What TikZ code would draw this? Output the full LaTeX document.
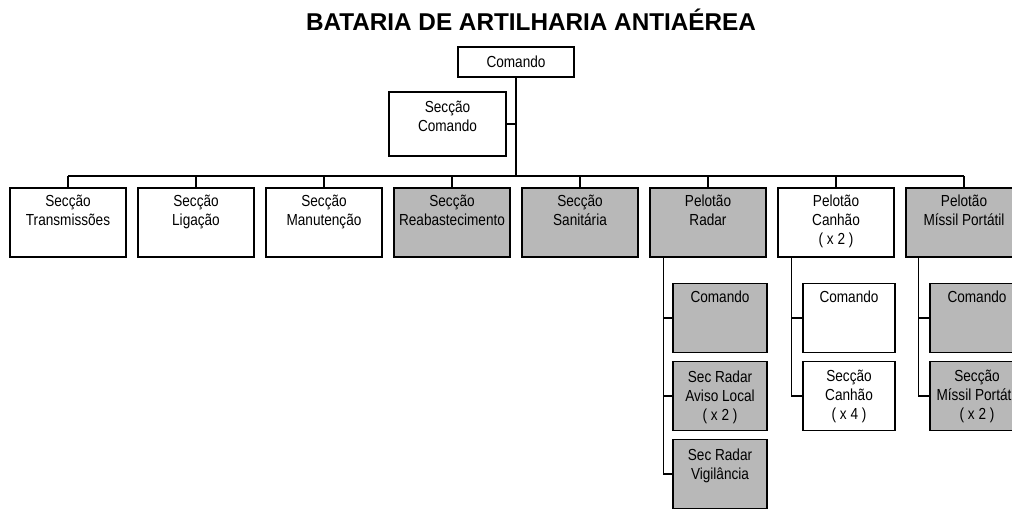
\documentclass[tikz,border=0pt]{standalone}
\usepackage{fontspec}
\setmainfont{Liberation Sans}
\newfontfamily\estreita{Liberation Sans}[FakeStretch=0.85]
\usepackage{tikz}

\begin{document}
\begin{tikzpicture}[x=1pt,y=-1pt,line width=1.1pt,
	font=\estreita\fontsize{16}{19}\selectfont,
	caixa/.style={draw,minimum width=116pt,minimum height=69pt,inner sep=0pt},
	sub/.style={caixa,minimum width=94pt},
	cinza/.style={fill=black!28},
	texto/.style={anchor=north,align=center,inner sep=0pt,yshift=-7pt}]
			\useasboundingbox (0,0) rectangle (1012,509);
			% Título
			\node[anchor=base,font=\bfseries\fontsize{24.3}{28}\selectfont] (titulo) at (531,30) {BATARIA DE ARTILHARIA ANTIAÉREA};
			% Comando
			\node[caixa,minimum height=30pt] (cmd) at (516,62) {Comando};
			\node[caixa,minimum width=117pt,minimum height=64pt,label={[texto,yshift=-2.5pt]north:{Secção\\Comando}}] (seccmd) at (447.5,124) {};
			% Secções e pelotões
			\node[caixa,label={[texto]north:{Secção\\Transmissões}}] (trans) at (68,222.5) {};
			\node[caixa,label={[texto]north:{Secção\\Ligação}}] (lig) at (196,222.5) {};
			\node[caixa,label={[texto]north:{Secção\\Manutenção}}] (man) at (324,222.5) {};
			\node[caixa,cinza,label={[texto]north:{Secção\\Reabastecimento}}] (reab) at (452,222.5) {};
			\node[caixa,cinza,label={[texto]north:{Secção\\Sanitária}}] (san) at (580,222.5) {};
			\node[caixa,cinza,label={[texto]north:{Pelotão\\Radar}}] (radar) at (708,222.5) {};
			\node[caixa,label={[texto]north:{Pelotão\\Canhão\\( x 2 )}}] (canhao) at (836,222.5) {};
			\node[caixa,cinza,label={[texto]north:{Pelotão\\Míssil Portátil}}] (missil) at (964,222.5) {};
			% Subunidades
			\node[sub,cinza,label={[texto,yshift=0pt]north:{Comando}}] (rcmd) at (720,318) {};
			\node[sub,cinza,label={[texto,yshift=-2pt]north:{Sec Radar\\Aviso Local\\( x 2 )}}] (raviso) at (720,396) {};
			\node[sub,cinza,label={[texto,yshift=-2pt]north:{Sec Radar\\Vigilância}}] (rvig) at (720,474) {};
			\node[sub,minimum width=92pt,label={[texto,yshift=0pt]north:{Comando}}] (ccmd) at (849,318) {};
			\node[sub,minimum width=92pt,label={[texto,yshift=-2pt]north:{Secção\\Canhão\\( x 4 )}}] (csec) at (849,396) {};
			\node[sub,cinza,label={[texto,yshift=0pt]north:{Comando}}] (mcmd) at (977,318) {};
			\node[sub,cinza,label={[texto,yshift=-2pt]north:{Secção\\Míssil Portátil\\( x 2 )}}] (msec) at (977,396) {};
			% Ligações
			\coordinate (barra) at (516,176);
			\draw (cmd.south) -- (barra);
			\draw (seccmd.east) -- (seccmd.east -| cmd.south);
			\draw (trans.north |- barra) -- (missil.north |- barra);
			\foreach \n in {trans,lig,man,reab,san,radar,canhao,missil}
			\draw (\n.north) -- (\n.north |- barra);
			\coordinate (radarv) at ([xshift=14pt]radar.south west);
			\draw (radarv) |- (rvig.west);
			\draw (radarv |- rcmd.west) -- (rcmd.west);
			\draw (radarv |- raviso.west) -- (raviso.west);
			\coordinate (canhaov) at ([xshift=14pt]canhao.south west);
			\draw (canhaov) |- (csec.west);
			\draw (canhaov |- ccmd.west) -- (ccmd.west);
			\coordinate (missilv) at ([xshift=13pt]missil.south west);
			\draw (missilv) |- (msec.west);
			\draw (missilv |- mcmd.west) -- (mcmd.west);
\end{tikzpicture}
\end{document}
